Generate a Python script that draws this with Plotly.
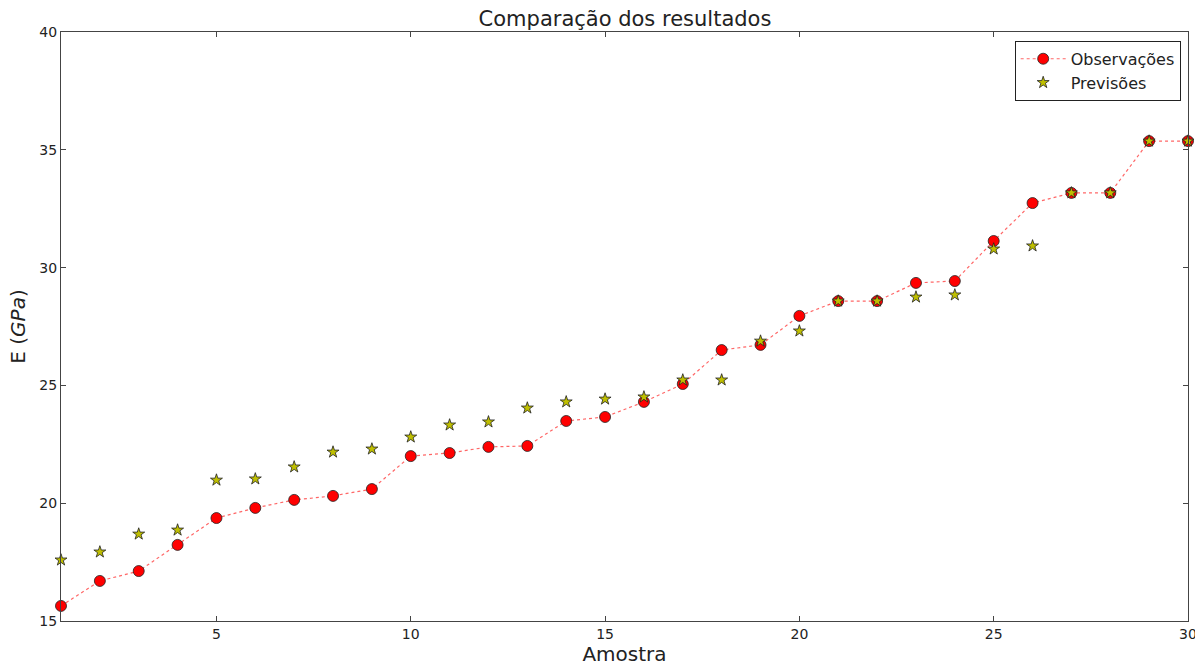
import plotly.graph_objects as go

amostra = list(range(1, 31))
observacoes = [15.64, 16.70, 17.12, 18.23, 19.37, 19.80, 20.14, 20.31, 20.60, 22.00,
               22.13, 22.39, 22.43, 23.49, 23.66, 24.30, 25.06, 26.50, 26.72, 27.95,
               28.58, 28.58, 29.35, 29.43, 31.13, 32.74, 33.17, 33.17, 35.37, 35.37]
previsoes = [17.59, 17.93, 18.69, 18.86, 20.98, 21.03, 21.54, 22.17, 22.30, 22.81,
             23.32, 23.45, 24.04, 24.30, 24.42, 24.51, 25.23, 25.23, 26.88, 27.31,
             28.58, 28.58, 28.75, 28.84, 30.79, 30.92, 33.17, 33.17, 35.37, 35.37]
x_ticks = [5, 10, 15, 20, 25, 30]
y_ticks = [15, 20, 25, 30, 35, 40]

fig = go.Figure()
fig.add_trace(go.Scatter(
    x=amostra, y=observacoes, mode="lines+markers", name="Observações",
    line=dict(color="rgba(255,0,0,0.6)", dash="dot", width=1.2),
    marker=dict(symbol="circle", size=11, color="#ff0000",
                line=dict(color="#222", width=0.8)),
    cliponaxis=False,
))
fig.add_trace(go.Scatter(
    x=amostra, y=previsoes, mode="markers", name="Previsões",
    marker=dict(symbol="star", size=9, color="#bfbf00",
                line=dict(color="#222", width=0.8)),
    cliponaxis=False,
))

axis_common = dict(
    showgrid=False, zeroline=False, showline=True, linecolor="#444", linewidth=1.3,
    mirror="ticks", ticks="inside", ticklen=5, tickcolor="#444", automargin=False,
    ticklabeloverflow="allow",
    tickfont=dict(family="DejaVu Sans", size=14, color="#222"),
)
fig.update_xaxes(range=[1, 30], tickvals=x_ticks, **axis_common,
                 title=dict(text="Amostra", font=dict(family="DejaVu Sans", size=20, color="#222"),
                            standoff=4))
fig.update_yaxes(range=[15, 40], tickvals=y_ticks, **axis_common,
                 title=dict(text="E (<i>GPa</i>)", font=dict(family="DejaVu Sans", size=20, color="#222"),
                            standoff=8))

fig.update_layout(
    width=1195, height=668,
    margin=dict(l=61, r=7, t=32, b=47, autoexpand=False),
    paper_bgcolor="white", plot_bgcolor="white",
    title=dict(text="Comparação dos resultados", x=0.523, xanchor="center",
               y=1 - 19 / 668, yanchor="middle",
               font=dict(family="DejaVu Sans", size=21, color="#222")),
    legend=dict(x=0.9935, y=0.985, xanchor="right", yanchor="top",
                bordercolor="#222", borderwidth=1, bgcolor="white",
                font=dict(family="DejaVu Sans", size=16, color="#222"),
                itemwidth=45, tracegroupgap=0),
    showlegend=True,
)

fig.write_html("out.html", config={"displayModeBar": False},
               post_script="document.body.style.margin='0';document.body.style.overflow='hidden';")
